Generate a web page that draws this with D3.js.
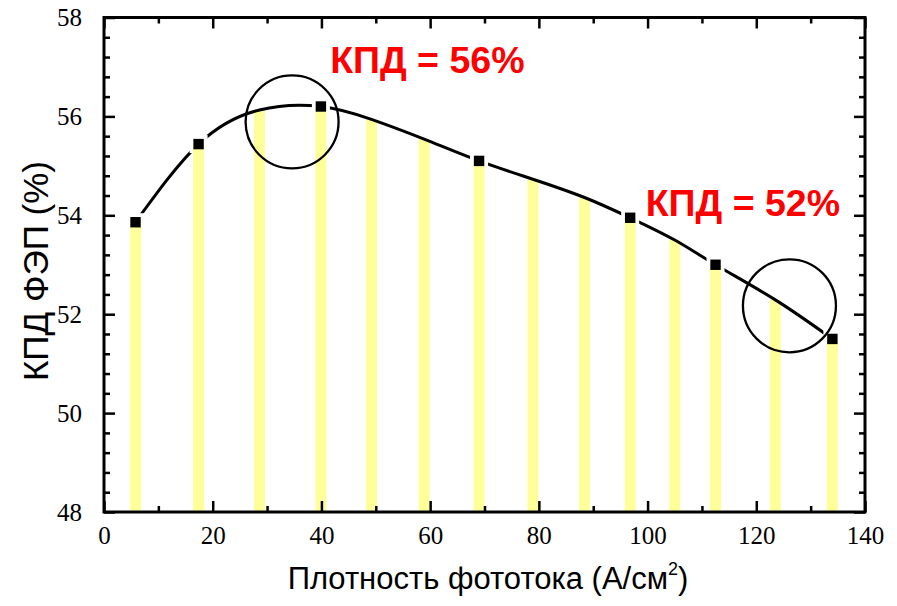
<!DOCTYPE html>
<html>
<head>
<meta charset="utf-8">
<script src="https://cdn.jsdelivr.net/npm/d3@7"></script>
<style>
  html, body { margin: 0; padding: 0; background: #fff; }
  svg { display: block; }
  .tick-label { font-family: "Liberation Serif", "Times New Roman", serif; font-size: 25px; }
</style>
</head>
<body>
<svg id="chart" width="897" height="606"></svg>
<script>
// Photocurrent density (A/cm²) at each sampled point
const currentDensity = [5.8, 17.4, 28.6, 39.9, 49.2, 58.9, 69.0, 78.9, 88.4, 96.8, 105.0, 112.5, 123.5, 134.0];
// Converter efficiency (%) at each sampled point
const efficiency = [53.86, 55.44, 56.13, 56.20, 55.94, 55.54, 55.10, 54.73, 54.36, 53.95, 53.50, 53.00, 52.29, 51.50];
// Indices of the measured points shown with square markers
const measuredIdx = [0, 1, 3, 6, 9, 11, 13];

// Axis ticks
const xTickLabels = [0, 20, 40, 60, 80, 100, 120, 140];
const yTickLabels = [48, 50, 52, 54, 56, 58];

// Highlighted regions and their captions
const highlightX = [34.6, 126.1];
const highlightY = [55.89, 52.17];
const captionText = ["КПД = 56%", "КПД = 52%"];
const captionX = [41.6, 99.65];
const captionY = [56.88, 53.99];

const svg = d3.select("#chart");
const margin = { left: 104, top: 17.5, right: 32, bottom: 94 };
const W = 897 - margin.left - margin.right;
const H = 606 - margin.top - margin.bottom;

const x = d3.scaleLinear().domain([0, 140]).range([0, W]);
const y = d3.scaleLinear().domain([48, 58]).range([H, 0]);

const g = svg.append("g").attr("transform", `translate(${margin.left},${margin.top})`);

const pts = currentDensity.map((d, i) => ({ x: d, y: efficiency[i] }));
const measured = measuredIdx.map(i => pts[i]);

// Vertical yellow bars from the baseline up to the curve
g.append("g").selectAll("rect").data(pts).join("rect")
  .attr("x", d => x(d.x) - 5.5)
  .attr("width", 11)
  .attr("y", d => y(d.y))
  .attr("height", d => y(48) - y(d.y))
  .attr("fill", "#ffff99");

// Mask that leaves a small white gap in the curve around each marker
const defs = svg.append("defs");
const mask = defs.append("mask").attr("id", "gapMask").attr("maskUnits", "userSpaceOnUse")
  .attr("x", -50).attr("y", -50).attr("width", W + 100).attr("height", H + 100);
mask.append("rect").attr("x", -50).attr("y", -50).attr("width", W + 100).attr("height", H + 100).attr("fill", "#fff");
mask.selectAll("rect.hole").data(measured).join("rect").attr("class", "hole")
  .attr("x", d => x(d.x) - 9).attr("y", d => y(d.y) - 9)
  .attr("width", 18).attr("height", 18).attr("fill", "#000");

const line = d3.line().x(d => x(d.x)).y(d => y(d.y)).curve(d3.curveNatural);
g.append("path").datum(pts)
  .attr("d", line)
  .attr("fill", "none")
  .attr("stroke", "#000")
  .attr("stroke-width", 3)
  .attr("mask", "url(#gapMask)");

// Square markers at measured points
g.append("g").selectAll("rect").data(measured).join("rect")
  .attr("x", d => x(d.x) - 5.2)
  .attr("y", d => y(d.y) - 5.2)
  .attr("width", 10.4).attr("height", 10.4)
  .attr("fill", "#000");

// Circles around the highlighted regions
g.append("g").selectAll("circle").data(highlightX).join("circle")
  .attr("cx", d => x(d))
  .attr("cy", (d, i) => y(highlightY[i]))
  .attr("r", 46.5)
  .attr("fill", "none")
  .attr("stroke", "#000")
  .attr("stroke-width", 2.3);

// Captions
g.append("g").selectAll("text").data(captionText).join("text")
  .attr("x", (d, i) => x(captionX[i]))
  .attr("y", (d, i) => y(captionY[i]))
  .style("font-family", "'Liberation Sans', Arial, sans-serif")
  .style("font-weight", "bold")
  .style("font-size", "37.5px")
  .attr("fill", "#ff0000")
  .text(d => d);

// Frame and ticks
const axisStyle = sel => {
  sel.attr("font-family", null).attr("font-size", null);
  sel.select(".domain").remove();
  sel.selectAll(".tick line").attr("stroke", "#000").attr("stroke-width", 2.5);
  sel.selectAll(".tick text").attr("class", "tick-label").attr("fill", "#000");
};

const xMinor = d3.range(0, 141, 10).filter(v => v % 20 !== 0);
const yMinor = d3.range(0, 26).map(k => +(48 + k * 0.4).toFixed(1)).filter(v => v % 2 !== 0);

// bottom
g.append("g").attr("transform", `translate(0,${H})`)
  .call(d3.axisBottom(x).tickValues(xTickLabels).tickSize(-11).tickPadding(14).tickFormat(d3.format("d")))
  .call(axisStyle);
g.append("g").attr("transform", `translate(0,${H})`)
  .call(d3.axisBottom(x).tickValues(xMinor).tickSize(-6).tickFormat(""))
  .call(axisStyle);
// top
g.append("g")
  .call(d3.axisTop(x).tickValues(xTickLabels).tickSize(-11).tickFormat(""))
  .call(axisStyle);
g.append("g")
  .call(d3.axisTop(x).tickValues(xMinor).tickSize(-6).tickFormat(""))
  .call(axisStyle);
// left
g.append("g")
  .call(d3.axisLeft(y).tickValues(yTickLabels).tickSize(-11).tickPadding(22).tickFormat(d3.format("d")))
  .call(axisStyle);
g.append("g")
  .call(d3.axisLeft(y).tickValues(yMinor).tickSize(-6).tickFormat(""))
  .call(axisStyle);
// right
g.append("g").attr("transform", `translate(${W},0)`)
  .call(d3.axisRight(y).tickValues(yTickLabels).tickSize(-11).tickFormat(""))
  .call(axisStyle);
g.append("g").attr("transform", `translate(${W},0)`)
  .call(d3.axisRight(y).tickValues(yMinor).tickSize(-6).tickFormat(""))
  .call(axisStyle);

g.append("rect").attr("width", W).attr("height", H)
  .attr("fill", "none").attr("stroke", "#000").attr("stroke-width", 3);

// Axis titles
svg.append("text")
  .attr("x", 488).attr("y", 589)
  .attr("text-anchor", "middle")
  .style("font-family", "'Liberation Sans', Arial, sans-serif")
  .style("font-size", "31px")
  .attr("fill", "#000")
  .call(t => {
    t.append("tspan").text("Плотность фототока (А/см");
    t.append("tspan").attr("dy", -14).style("font-size", "18px").text("2");
    t.append("tspan").attr("dy", 14).text(")");
  });

svg.append("text")
  .attr("transform", "translate(48,271) rotate(-90)")
  .attr("text-anchor", "middle")
  .style("font-family", "'Liberation Sans', Arial, sans-serif")
  .style("font-size", "35px")
  .attr("fill", "#000")
  .text("КПД ФЭП (%)");
</script>
</body>
</html>
